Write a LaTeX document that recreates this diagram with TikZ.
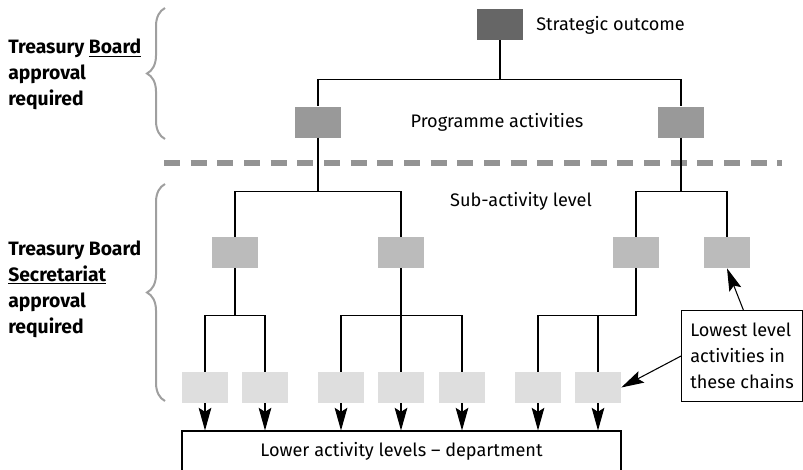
\documentclass[tikz,border=0pt]{standalone}
\usepackage{fontspec}
\setmainfont{Fira Sans}
\usepackage{xcolor}
\usetikzlibrary{arrows.meta,positioning,decorations.pathreplacing}

\definecolor{outcgray}{HTML}{666666}
\definecolor{proggray}{HTML}{999999}
\definecolor{subgray}{HTML}{BBBBBB}
\definecolor{lowgray}{HTML}{DEDEDE}

\begin{document}
\begin{tikzpicture}[
    x=0.75pt, y=-0.75pt,
    every node/.style={font=\fontsize{13.6}{19.5}\selectfont},
    outc/.style={fill=outcgray, minimum width=34.5pt, minimum height=23.25pt, inner sep=0pt},
    prog/.style={fill=proggray, minimum width=34.5pt, minimum height=23.25pt, inner sep=0pt},
    sub/.style={fill=subgray, minimum width=34.5pt, minimum height=23.25pt, inner sep=0pt},
    leaf/.style={fill=lowgray, minimum width=34.5pt, minimum height=23.25pt, inner sep=0pt},
    lbl/.style={inner sep=0pt},
    side/.style={font=\fontsize{14.5}{19.5}\selectfont\bfseries, align=left, inner sep=0pt},
    lower/.style={draw, line width=0.8pt, minimum width=329.25pt, minimum height=30pt, inner sep=0pt},
    note/.style={draw, line width=0.8pt, align=left, minimum width=90.75pt, minimum height=68.25pt, inner sep=0pt},
    tree/.style={line width=0.9pt},
    arr/.style={-{Stealth[length=17pt, width=9.5pt, inset=3pt]}, line width=0.8pt},
    sep/.style={draw=gray!85, line width=4pt, dash pattern=on 12pt off 8pt},
    brc/.style={decorate, decoration={brace, amplitude=13.5pt}, draw=gray!75, line width=1.5pt},
]
\clip (0,0) rectangle (803,469);

% Left: approval levels
\node[side, anchor=west] (tb) at (8,74.5) {Treasury \underline{Board}\\approval\\required};
\node[side, anchor=west] (tbs) at (8,289) {Treasury Board\\\underline{Secretariat}\\approval\\required};
\draw[brc] (165,139) -- (165,8);
\draw[brc] (165,401) -- (165,184);

% Level 1: strategic outcome
\node[outc] (so) at (500,24.5) {};
\node[lbl, anchor=west] (solbl) at (536,25) {Strategic outcome};

% Level 2: programme activities
\node[prog] (pa1) at (318,122) {};
\node[prog] (pa2) at (681,122) {};
\node[lbl] (palbl) at (497,122) {Programme activities};

% Separator between the two approval levels
\draw[sep] (164,163) -- (782,163);

% Level 3: sub-activities
\node[sub] (sa1) at (235,252.5) {};
\node[sub] (sa2) at (401,252.5) {};
\node[sub] (sa3) at (636,252.5) {};
\node[sub] (sa4) at (727,252.5) {};
\node[lbl] (salbl) at (521,201) {Sub-activity level};

% Level 4: lowest activities
\node[leaf] (la1) at (205,387.5) {};
\node[leaf] (la2) at (265,387.5) {};
\node[leaf] (la3) at (341,387.5) {};
\node[leaf] (la4) at (401,387.5) {};
\node[leaf] (la5) at (462,387.5) {};
\node[leaf] (la6) at (538,387.5) {};
\node[leaf] (la7) at (598,387.5) {};

% Bottom: department levels (runs off the page)
\node[lower] (low) at (401.5,451) {Lower activity levels -- department};

% Callout
\node[note, anchor=north west] (note) at (681,310) {Lowest level\\activities in\\these chains};

% Tree lines
\draw[tree] (so.south) -- ++(0,39) -| (pa1.north);
\draw[tree] (so.south) -- ++(0,39) -| (pa2.north);
\draw[tree] (pa1.south) -- ++(0,54) -| (sa1.north);
\draw[tree] (pa1.south) -- ++(0,54) -| (sa2.north);
\draw[tree] (pa2.south) -- ++(0,54) -| (sa3.north);
\draw[tree] (pa2.south) -- ++(0,54) -| (sa4.north);
\draw[tree] (sa1.south) -- ++(0,47) -| (la1.north);
\draw[tree] (sa1.south) -- ++(0,47) -| (la2.north);
\draw[tree] (sa2.south) -- ++(0,47) -| (la3.north);
\draw[tree] (sa2.south) -- (la4.north);
\draw[tree] (sa2.south) -- ++(0,47) -| (la5.north);
\draw[tree] (sa3.south) -- ++(0,47) -| (la6.north);
\draw[tree] (sa3.south) -- ++(0,47) -| (la7.north);

% Arrows down to the department box
\draw[arr] (la1.south) -- (la1.south |- low.north);
\draw[arr] (la2.south) -- (la2.south |- low.north);
\draw[arr] (la3.south) -- (la3.south |- low.north);
\draw[arr] (la4.south) -- (la4.south |- low.north);
\draw[arr] (la5.south) -- (la5.south |- low.north);
\draw[arr] (la6.south) -- (la6.south |- low.north);
\draw[arr] (la7.south) -- (la7.south |- low.north);

% Callout pointers
\draw[arr] ([xshift=1pt]note.north) -- (sa4.south);
\draw[arr] (note.west) -- (la7.east);

\end{tikzpicture}
\end{document}
